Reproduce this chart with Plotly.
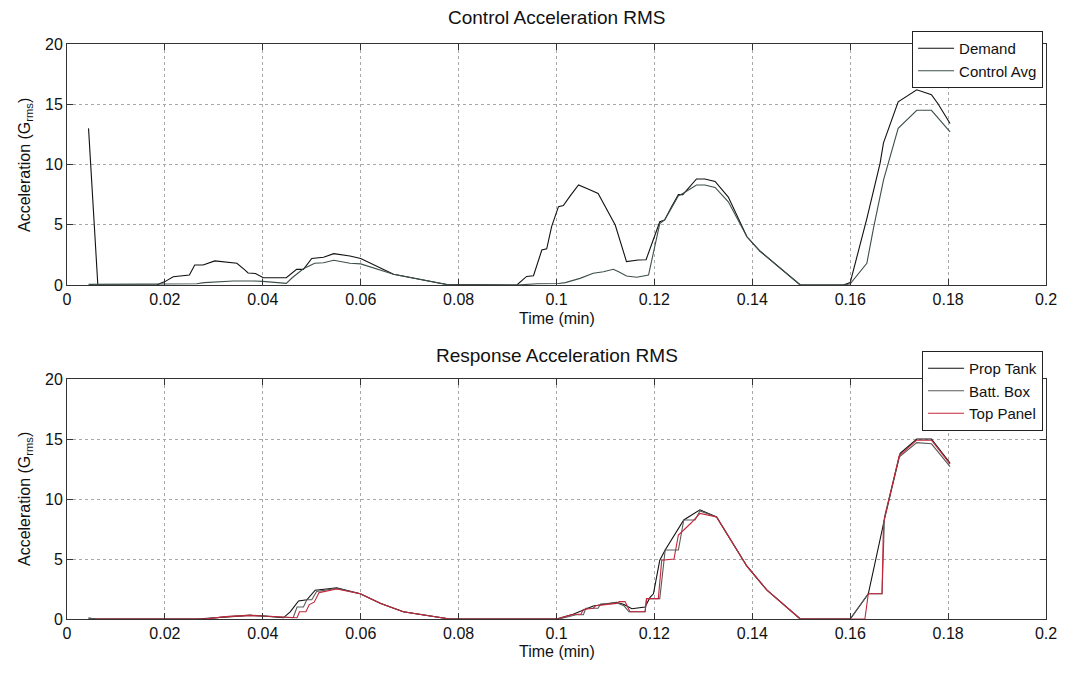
import plotly.graph_objects as go

# ---------------- data ----------------
demand_t = [0.0044,0.0063,0.0183,0.0200,0.0217,0.0236,0.0250,0.0261,0.0278,0.0302,0.0319,0.0347,0.0362,0.0370,0.0385,
            0.0401,0.0448,0.0469,0.0483,0.0500,0.0524,0.0545,0.0578,0.0600,0.0667,0.0776,0.0919,0.0939,0.0953,0.0970,
            0.0980,0.0990,0.1004,0.1014,0.1028,0.1045,0.1068,0.1085,0.1120,0.1143,0.1167,0.1183,0.1211,0.1221,0.1235,
            0.1249,0.1258,0.1286,0.1303,0.1324,0.1351,0.1389,0.1416,0.1498,0.1586,0.1600,0.1634,0.1661,0.1668,0.1698,
            0.1736,0.1766,0.1780,0.1804]
demand_v = [13.0,0.0,0.0,0.28,0.69,0.74,0.83,1.66,1.66,2.0,1.94,1.8,1.3,1.0,0.95,
            0.6,0.6,1.3,1.3,2.2,2.3,2.6,2.4,2.2,0.89,0.04,0.0,0.71,0.77,2.9,
            3.0,4.84,6.5,6.6,7.4,8.3,7.9,7.6,4.98,1.94,2.08,2.1,5.25,5.4,6.5,
            7.5,7.5,8.8,8.8,8.6,7.3,4.0,2.8,0.0,0.0,0.2,5.5,10.1,11.8,15.2,
            16.2,15.8,15.0,13.4]

ctrl_t = [0.0044,0.0200,0.0265,0.0280,0.0340,0.0380,0.0400,0.0448,0.0460,0.0483,0.0506,0.0524,0.0545,0.0578,0.0600,
          0.0667,0.0776,0.0919,0.0960,0.1004,0.1018,0.1048,0.1075,0.1096,0.1116,0.1127,0.1143,0.1164,0.1188,0.1211,
          0.1221,0.1235,0.1249,0.1258,0.1286,0.1303,0.1324,0.1351,0.1389,0.1416,0.1498,0.1586,0.1600,0.1634,0.1648,
          0.1668,0.1698,0.1736,0.1766,0.1804]
ctrl_v = [0.05,0.05,0.1,0.2,0.33,0.33,0.3,0.14,0.6,1.35,1.8,1.85,2.05,1.8,1.75,
          0.89,0.04,0.0,0.1,0.13,0.2,0.55,0.97,1.1,1.3,1.1,0.75,0.64,0.83,5.1,
          5.4,6.4,7.4,7.6,8.3,8.3,8.1,6.9,4.0,2.8,0.0,0.0,0.1,1.8,4.8,
          8.7,13.0,14.5,14.5,12.7]

prop_t = [0.0044,0.0060,0.0265,0.0300,0.0326,0.0374,0.0400,0.0442,0.0456,0.0473,0.0490,0.0507,0.0530,0.0551,0.0599,
          0.0641,0.0687,0.0782,0.1000,0.1034,0.1075,0.1105,0.1123,0.1138,0.1154,0.1181,0.1191,0.1198,0.1211,0.1222,
          0.1260,0.1293,0.1327,0.1389,0.1430,0.1498,0.1600,0.1637,0.1671,0.1702,0.1736,0.1766,0.1804]
prop_v = [0.08,0.0,0.0,0.1,0.2,0.3,0.25,0.1,0.6,1.5,1.6,2.4,2.5,2.6,2.1,
          1.3,0.6,0.0,0.0,0.4,1.08,1.25,1.4,1.2,0.85,1.0,1.8,2.1,4.9,5.75,
          8.25,9.1,8.5,4.4,2.4,0.0,0.0,2.1,8.5,13.8,15.0,15.0,13.0]

batt_t = [0.0044,0.0060,0.0280,0.0326,0.0374,0.0400,0.0445,0.0462,0.0470,0.0483,0.0490,0.0500,0.0510,0.0530,0.0551,
          0.0599,0.0641,0.0687,0.0782,0.1005,0.1040,0.1055,0.1060,0.1085,0.1090,0.1123,0.1138,0.1148,0.1181,0.1184,
          0.1211,0.1222,0.1249,0.1260,0.1283,0.1293,0.1327,0.1389,0.1430,0.1498,0.1600,0.1637,0.1665,0.1670,0.1700,
          0.1736,0.1766,0.1804]
batt_v = [0.05,0.0,0.0,0.2,0.32,0.25,0.1,0.1,1.0,1.0,1.6,1.6,2.3,2.45,2.55,
          2.1,1.3,0.6,0.0,0.0,0.35,0.35,0.9,0.9,1.25,1.35,1.1,0.6,0.6,1.7,
          1.7,5.75,5.75,8.25,8.25,9.0,8.5,4.4,2.4,0.0,0.0,2.1,2.1,8.5,13.5,
          14.7,14.6,12.7]

top_t = [0.0060,0.0280,0.0326,0.0374,0.0400,0.0450,0.0470,0.0475,0.0488,0.0495,0.0505,0.0515,0.0551,0.0599,0.0641,
         0.0687,0.0782,0.1000,0.1034,0.1050,0.1055,0.1075,0.1080,0.1123,0.1128,0.1140,0.1150,0.1181,0.1184,0.1208,
         0.1215,0.1240,0.1249,0.1275,0.1293,0.1327,0.1389,0.1430,0.1498,0.1630,0.1637,0.1665,0.1668,0.1700,0.1736,
         0.1766,0.1804]
top_v = [0.0,0.0,0.2,0.3,0.25,0.1,0.1,0.6,0.6,1.2,1.4,2.2,2.5,2.1,1.3,
         0.6,0.0,0.0,0.4,0.4,0.8,0.9,1.1,1.3,1.45,1.45,0.6,0.6,1.7,1.7,
         4.9,5.0,7.0,8.0,8.8,8.5,4.4,2.4,0.0,0.0,2.1,2.1,8.0,13.6,14.9,
         14.9,12.9]

x_ticks = [0, 0.02, 0.04, 0.06, 0.08, 0.1, 0.12, 0.14, 0.16, 0.18, 0.2]
x_tick_labels = ["0", "0.02", "0.04", "0.06", "0.08", "0.1", "0.12", "0.14", "0.16", "0.18", "0.2"]
y_ticks = [0, 5, 10, 15, 20]

# ---------------- figure ----------------
FONT = "Liberation Sans, Arial, sans-serif"
OFF = 8                      # page body margin
W, H = 1071 - OFF, 676 - OFF
ML, MR, MT, MB = 67 - OFF, 25, 44 - OFF, 57
plot_h = H - MT - MB  # 575

def py(pix):  # window pixel row -> paper y
    return (H - MB - (pix - OFF)) / plot_h

def px(pix):
    return (pix - OFF - ML) / (W - ML - MR)

fig = go.Figure()
lw = 1.1
fig.add_trace(go.Scatter(x=demand_t, y=demand_v, mode="lines", name="Demand",
                         line=dict(color="#111111", width=lw), xaxis="x", yaxis="y", legend="legend"))
fig.add_trace(go.Scatter(x=ctrl_t, y=ctrl_v, mode="lines", name="Control Avg",
                         line=dict(color="#3d4f48", width=lw), xaxis="x", yaxis="y", legend="legend"))
fig.add_trace(go.Scatter(x=prop_t, y=prop_v, mode="lines", name="Prop Tank",
                         line=dict(color="#111111", width=lw), xaxis="x2", yaxis="y2", legend="legend2"))
fig.add_trace(go.Scatter(x=batt_t, y=batt_v, mode="lines", name="Batt. Box",
                         line=dict(color="#5a5a5a", width=lw), xaxis="x2", yaxis="y2", legend="legend2"))
fig.add_trace(go.Scatter(x=top_t, y=top_v, mode="lines", name="Top Panel",
                         line=dict(color="#c4263a", width=lw), xaxis="x2", yaxis="y2", legend="legend2"))

axis_common = dict(showline=True, linecolor="#333333", linewidth=1, mirror="allticks",
                   ticks="inside", ticklen=6, tickcolor="#333333",
                   showgrid=True, gridcolor="#a8a8a8", griddash="dot", gridwidth=1,
                   zeroline=False, tickfont=dict(family=FONT, size=16, color="#111111"))

xax = dict(axis_common, range=[0, 0.2], tickvals=x_ticks, ticktext=x_tick_labels, domain=[0, 1])
yax = dict(axis_common, range=[0, 20], tickvals=y_ticks)

leg_common = dict(x=0.997, xanchor="right", yanchor="top", bgcolor="white",
                  bordercolor="#222222", borderwidth=1, itemwidth=36,
                  font=dict(family=FONT, size=15), traceorder="normal", tracegroupgap=0)

fig.update_layout(
    width=W, height=H,
    margin=dict(l=ML, r=MR, t=MT, b=MB, autoexpand=False),
    paper_bgcolor="white", plot_bgcolor="white",
    font=dict(family=FONT, size=16, color="#111111"),
    xaxis=dict(xax, anchor="y"),
    yaxis=dict(yax, domain=[py(285), 1], anchor="x"),
    xaxis2=dict(xax, anchor="y2"),
    yaxis2=dict(yax, domain=[0, py(379)], anchor="x2"),
    showlegend=True,
    legend=dict(leg_common, y=py(31)),
    legend2=dict(leg_common, y=py(351)),
)

annos = [
    dict(text="Control Acceleration RMS", x=0.5, y=py(18), size=19),
    dict(text="Response Acceleration RMS", x=0.5, y=py(355), size=19),
    dict(text="Time (min)", x=0.5, y=py(318), size=16),
    dict(text="Time (min)", x=0.5, y=py(651), size=16),
]
for a in annos:
    fig.add_annotation(xref="paper", yref="paper", x=a["x"], y=a["y"], text=a["text"],
                       showarrow=False, xanchor="center", yanchor="middle",
                       font=dict(family=FONT, size=a["size"], color="#111111"))
for yc in (py(165), py(499)):
    fig.add_annotation(xref="paper", yref="paper", x=px(25), y=yc,
                       text="Acceleration (G<sub>rms</sub>)", textangle=-90, showarrow=False,
                       xanchor="center", yanchor="middle",
                       font=dict(family=FONT, size=16, color="#111111"))

fig.write_html("out.html")
